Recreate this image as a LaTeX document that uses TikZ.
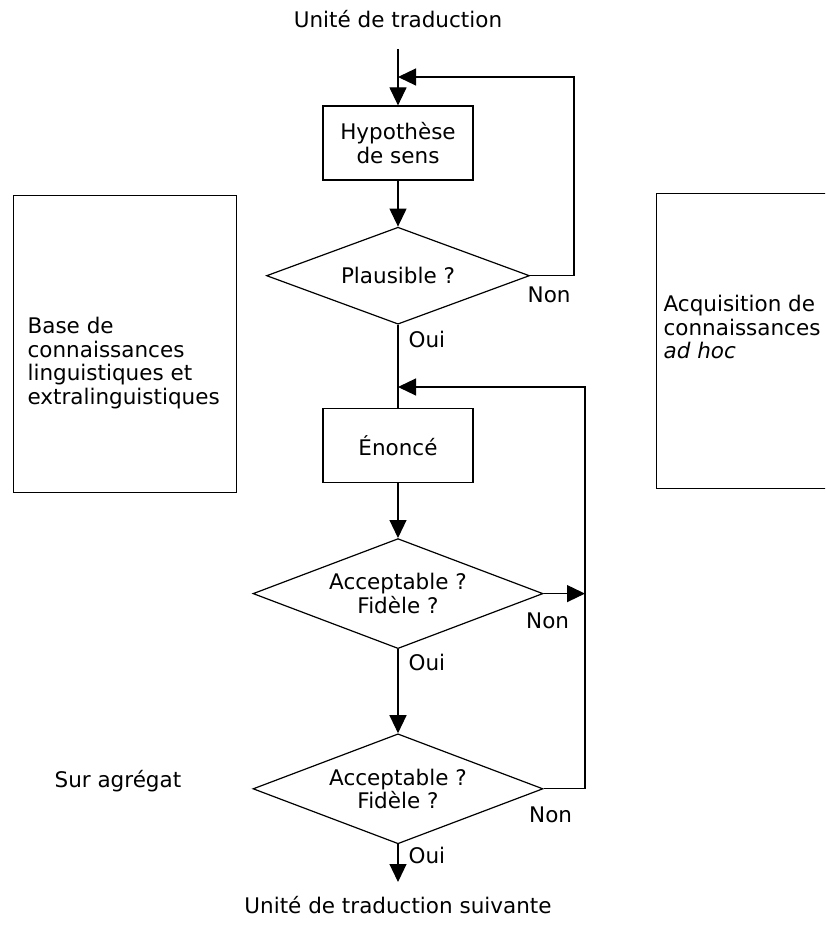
\documentclass[tikz,border=0pt]{standalone}
\usepackage{fontspec}
\setmainfont{DejaVu Sans}
\usetikzlibrary{arrows.meta,positioning,shapes.geometric}

\begin{document}
\begin{tikzpicture}[x=1pt, y=-1pt, line width=1.2pt,
      every node/.style={font=\fontsize{21.5}{23.5}\selectfont},
      box/.style={rectangle, draw, align=center, minimum width=150pt, minimum height=74pt, inner sep=2pt},
      test/.style={diamond, draw, align=center, aspect=2.6, inner sep=1pt,
                   minimum width=290pt, minimum height=110pt},
      panel/.style={rectangle, draw, line width=0.9pt, minimum width=223pt, minimum height=297pt},
      txt/.style={align=left, inner sep=0pt},
      lbl/.style={inner sep=0pt},
      arr/.style={-{Triangle[length=18pt,width=17pt]}}]
    \useasboundingbox (0,0) rectangle (825,931);
    \clip (0,0) rectangle (825,931);
    % main chain
    \node[lbl, anchor=base] (src) at (398,28) {Unité de traduction};
    \coordinate (in) at (398,49);
    \node[box] (hyp) at (398,143) {Hypothèse\\de sens};
    \node[test, minimum width=263pt, minimum height=97pt, below=46pt of hyp] (plaus) {Plausible ?};
    \node[box, below=83pt of plaus] (enonce) {Énoncé};
    \node[test, below=55pt of enonce] (acc) {Acceptable ?\\Fidèle ?};
    \node[test, below=84pt of acc] (agr) {Acceptable ?\\Fidèle ?};
    \coordinate (out) at (398,882);
    \node[lbl, anchor=base] (dst) at (398,913) {Unité de traduction suivante};
    % answers
    \node[lbl, below right=11pt and -3pt of plaus.east] (non1) {Non};
    \node[lbl, below right=6pt and 10pt of plaus.south] (oui1) {Oui};
    \node[lbl, below right=19pt and -18pt of acc.east] (non2) {Non};
    \node[lbl, below right=4pt and 10pt of acc.south] (oui2) {Oui};
    \node[lbl, below right=17pt and -15pt of agr.east] (non3) {Non};
    \node[lbl, below right=2pt and 10pt of agr.south] (oui3) {Oui};
    % side panels
    \node[panel] (base) at (124.5,343.5) {};
    \node[txt, anchor=west] (basetxt) at (27,363) {Base de\\connaissances\\linguistiques et\\extralinguistiques};
    \node[panel, minimum width=220pt, minimum height=295pt, anchor=north west] (acq) at (656,193) {};
    \node[txt, anchor=west] (acqtxt) at (663,327) {Acquisition de\\connaissances\\\textit{ad hoc}};
    \node[lbl, anchor=base west] (aggr) at (54,787) {Sur agrégat};
    % loop corners
    \coordinate (r1) at (574,77);
    \coordinate (top1) at (398,77);
    \coordinate (r2) at (585,387);
    \coordinate (top2) at (398,387);
    % connectors
    \draw[arr] (in) -- (hyp);
    \draw[arr] (hyp) -- (plaus);
    \draw (plaus) -- (enonce);
    \draw[arr] (enonce) -- (acc);
    \draw[arr] (acc) -- (agr);
    \draw[arr] (agr) -- (out);
    \draw[arr] (plaus.east) -| (r1) -- (top1);
    \draw[arr] (agr.east) -| (r2) -- (top2);
    \draw[arr] (acc.east) -- (acc.east -| r2);
  \end{tikzpicture}
\end{document}
